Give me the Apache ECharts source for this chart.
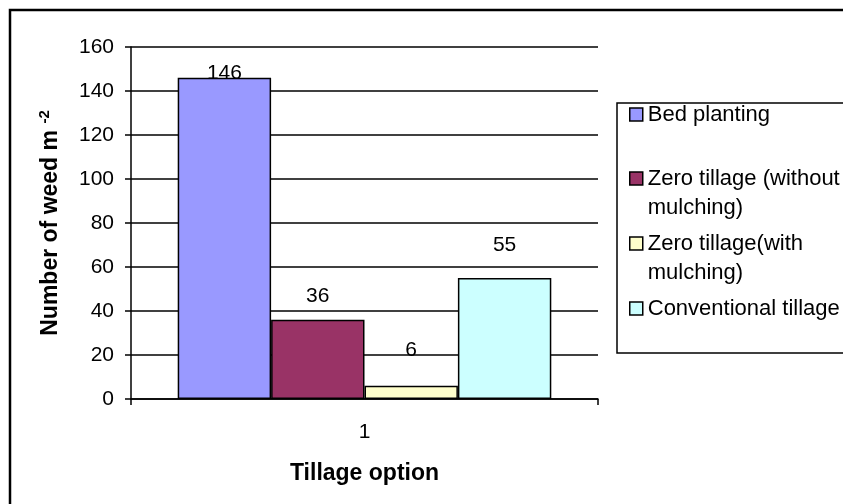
<!DOCTYPE html>
<html>
<head>
<meta charset="utf-8">
<style>
  html, body { margin: 0; padding: 0; background: #fff; }
  #chart { width: 843px; height: 504px; }
</style>
<script src="https://cdn.jsdelivr.net/npm/echarts@6/dist/echarts.min.js"></script>
</head>
<body>
<div id="chart"></div>
<script>
// Weed density under different tillage options
const categories = ['1'];
const seriesNames = [
  'Bed planting',
  'Zero tillage (without mulching)',
  'Zero tillage(with mulching)',
  'Conventional tillage'
];
// Legend text; a leading blank line keeps the swatch beside the first line
const legendLabels = [
  'Bed planting',
  '\nZero tillage (without\nmulching)',
  '\nZero tillage(with\nmulching)',
  'Conventional tillage'
];
const bedPlanting = [146];
const zeroNoMulch = [36];
const zeroMulch = [6];
const conventional = [55];
const yTicks = { min: 0, max: 160, step: 20 };

const FONT = '"Liberation Sans", Arial, sans-serif';
const colors = ['#9999FF', '#993366', '#FFFFCC', '#CCFFFF'];
const values = [bedPlanting, zeroNoMulch, zeroMulch, conventional];
const labelDist = [-6, 13, 25, 22];

const chart = echarts.init(document.getElementById('chart'), null, { renderer: 'canvas' });

const series = values.map((vals, i) => ({
  name: seriesNames[i],
  type: 'bar',
  data: vals.map(v => ({ value: v, label: { distance: labelDist[i] } })),
  barGap: '0%',
  barCategoryGap: '20%',
  itemStyle: { color: colors[i], borderColor: '#000', borderWidth: 1.5 },
  label: {
    show: true,
    position: 'top',
    color: '#000',
    fontFamily: FONT,
    fontSize: 21
  },
  emphasis: { disabled: true },
  animation: false
}));

const legendTops = [95, 130, 195, 289];
const legends = seriesNames.map((n, i) => ({
  data: [n],
  left: 624,
  top: legendTops[i],
  orient: 'vertical',
  icon: 'rect',
  itemWidth: 13,
  itemHeight: 13,
  itemGap: 0,
  selectedMode: false,
  formatter: () => legendLabels[i],
  itemStyle: { borderColor: '#000', borderWidth: 1.5 },
  textStyle: {
    fontFamily: FONT,
    fontSize: 22,
    lineHeight: 29,
    color: '#000'
  }
}));

chart.setOption({
  animation: false,
  backgroundColor: '#fff',
  grid: { left: 131, right: 245, top: 47, bottom: 105, containLabel: false },
  legend: legends,
  graphic: [
    {
      type: 'rect',
      shape: { x: 10, y: 10, width: 900, height: 600 },
      style: { fill: 'none', stroke: '#000', lineWidth: 2.5 },
      z: 0
    },
    {
      type: 'rect',
      shape: { x: 617, y: 103, width: 300, height: 250 },
      style: { fill: '#fff', stroke: '#000', lineWidth: 1.5 },
      z: 0
    }
  ],
  xAxis: {
    type: 'category',
    data: categories,
    name: 'Tillage option',
    nameLocation: 'middle',
    nameGap: 63,
    nameTextStyle: { fontFamily: FONT, fontSize: 23, fontWeight: 'bold', color: '#000' },
    axisLine: { lineStyle: { color: '#000', width: 1.5 } },
    axisTick: { show: true, length: 6, lineStyle: { color: '#000', width: 1.5 } },
    axisLabel: { margin: 23, fontFamily: FONT, fontSize: 21, color: '#000' }
  },
  yAxis: {
    type: 'value',
    min: yTicks.min,
    max: yTicks.max,
    interval: yTicks.step,
    name: 'Number of weed m {sup|-2}',
    nameLocation: 'middle',
    nameGap: 67,
    nameRotate: 90,
    nameTextStyle: {
      fontFamily: FONT, fontSize: 23, fontWeight: 'bold', color: '#000',
      rich: {
        sup: { fontFamily: FONT, fontSize: 15, fontWeight: 'bold', color: '#000',
               verticalAlign: 'top', padding: [0, 0, 12, 0] }
      }
    },
    axisLine: { show: true, lineStyle: { color: '#000', width: 1.5 } },
    axisTick: { show: true, length: 6, lineStyle: { color: '#000', width: 1.5 } },
    axisLabel: { margin: 17, fontFamily: FONT, fontSize: 21, color: '#000' },
    splitLine: { show: true, lineStyle: { color: '#000', width: 1.5 } }
  },
  series: series
});
</script>
</body>
</html>
